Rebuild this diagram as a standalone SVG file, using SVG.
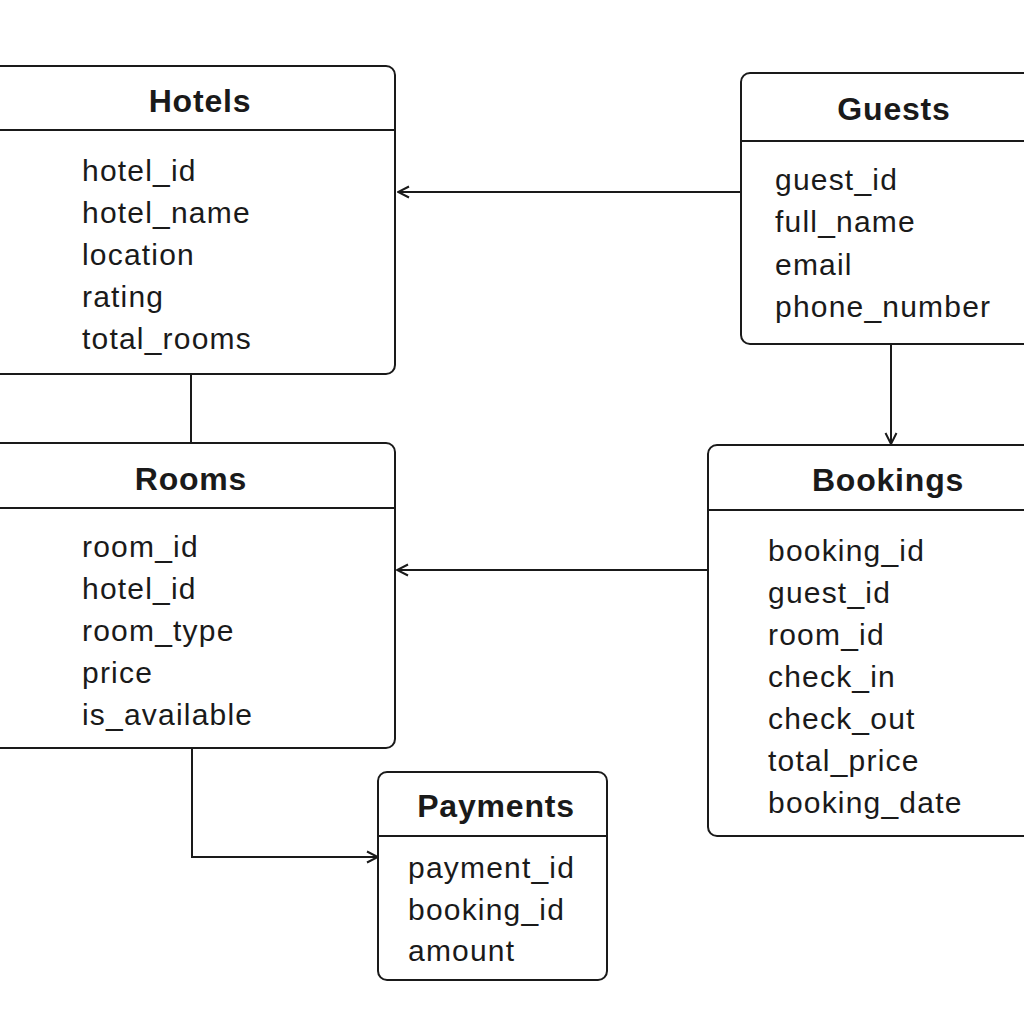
<svg xmlns="http://www.w3.org/2000/svg" width="1024" height="1024" viewBox="0 0 1024 1024">
<style>
.box{fill:#fff;stroke:#1a1a1a;stroke-width:2}
.sep{stroke:#1a1a1a;stroke-width:2}
.title{font-family:"Liberation Sans",Arial,Helvetica,sans-serif;font-weight:bold;font-size:32px;fill:#1a1a1a;text-anchor:middle;letter-spacing:0.8px}
.field{font-family:"Liberation Sans",Arial,Helvetica,sans-serif;font-size:30px;fill:#1a1a1a;letter-spacing:1.2px}
.conn{fill:none;stroke:#1a1a1a;stroke-width:2}
</style>
<defs>
<marker id="arr" viewBox="0 0 14 14" refX="13" refY="7" markerWidth="14" markerHeight="14" markerUnits="userSpaceOnUse" orient="auto">
<polyline points="2,1.5 13,7 2,12.5" fill="none" stroke="#1a1a1a" stroke-width="2"/>
</marker>
</defs>
<rect width="1024" height="1024" fill="#fff"/>
<g id="connectors">
<line class="conn" x1="741" y1="192" x2="398" y2="192" marker-end="url(#arr)"/>
<line class="conn" x1="191" y1="374" x2="191" y2="443"/>
<line class="conn" x1="891" y1="344" x2="891" y2="444" marker-end="url(#arr)"/>
<line class="conn" x1="708" y1="570" x2="397" y2="570" marker-end="url(#arr)"/>
<polyline class="conn" points="192,748 192,857 378,857" marker-end="url(#arr)"/>
</g>
<g id="hotels">
<rect class="box" x="-20" y="66" width="415" height="308" rx="9"/>
<line class="sep" x1="-20" y1="130" x2="395" y2="130"/>
<text class="title" x="200" y="112">Hotels</text>
<text class="field" x="82" y="181">hotel_id</text>
<text class="field" x="82" y="223">hotel_name</text>
<text class="field" x="82" y="265">location</text>
<text class="field" x="82" y="307">rating</text>
<text class="field" x="82" y="349">total_rooms</text>
</g>
<g id="guests">
<rect class="box" x="741" y="73" width="320" height="271" rx="9"/>
<line class="sep" x1="741" y1="141" x2="1030" y2="141"/>
<text class="title" x="894" y="120">Guests</text>
<text class="field" x="775" y="190">guest_id</text>
<text class="field" x="775" y="232">full_name</text>
<text class="field" x="775" y="275">email</text>
<text class="field" x="775" y="317">phone_number</text>
</g>
<g id="rooms">
<rect class="box" x="-20" y="443" width="415" height="305" rx="9"/>
<line class="sep" x1="-20" y1="508" x2="395" y2="508"/>
<text class="title" x="191" y="490">Rooms</text>
<text class="field" x="82" y="557">room_id</text>
<text class="field" x="82" y="599">hotel_id</text>
<text class="field" x="82" y="641">room_type</text>
<text class="field" x="82" y="683">price</text>
<text class="field" x="82" y="725">is_available</text>
</g>
<g id="bookings">
<rect class="box" x="708" y="445" width="340" height="391" rx="9"/>
<line class="sep" x1="708" y1="510" x2="1030" y2="510"/>
<text class="title" x="888" y="491">Bookings</text>
<text class="field" x="768" y="561">booking_id</text>
<text class="field" x="768" y="603">guest_id</text>
<text class="field" x="768" y="645">room_id</text>
<text class="field" x="768" y="687">check_in</text>
<text class="field" x="768" y="729">check_out</text>
<text class="field" x="768" y="771">total_price</text>
<text class="field" x="768" y="813">booking_date</text>
</g>
<g id="payments">
<rect class="box" x="378" y="772" width="229" height="208" rx="9"/>
<line class="sep" x1="378" y1="836" x2="607" y2="836"/>
<text class="title" x="496" y="817">Payments</text>
<text class="field" x="408" y="878">payment_id</text>
<text class="field" x="408" y="920">booking_id</text>
<text class="field" x="408" y="961">amount</text>
</g>
</svg>
